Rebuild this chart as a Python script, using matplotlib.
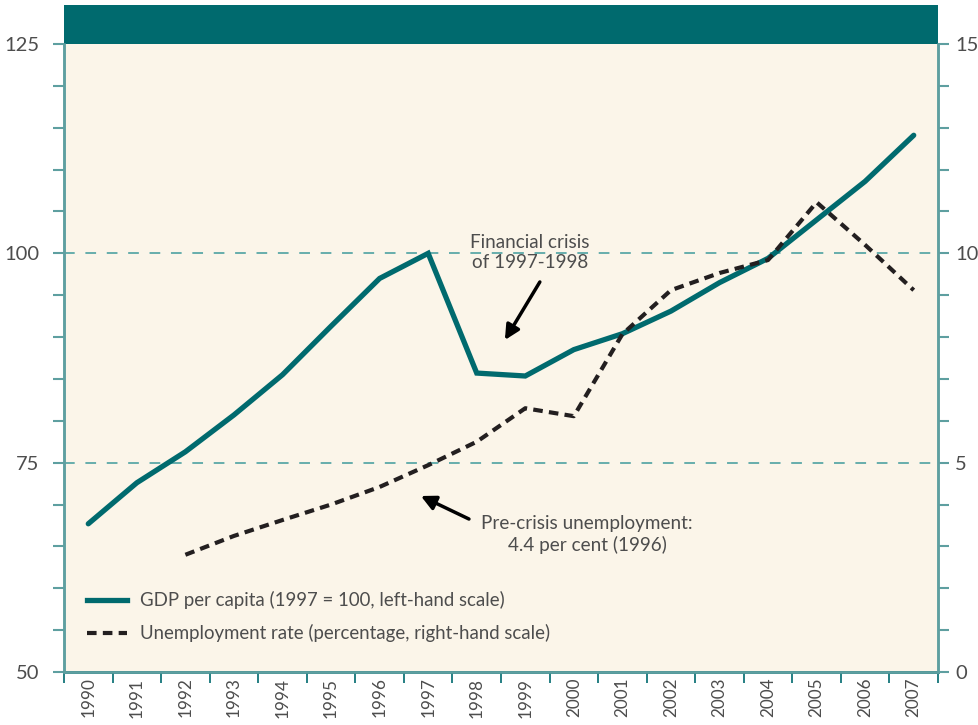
import matplotlib
matplotlib.use("Agg")
import matplotlib.pyplot as plt
import numpy as np

years = [str(y) for y in range(1990, 2008)]
gdp = [67.7, 72.6, 76.3, 80.7, 85.5, 91.3, 97.0, 100.0, 85.7, 85.35, 88.5, 90.4,
       93.1, 96.5, 99.4, 104.0, 108.6, 114.1]
unemp_years = [str(y) for y in range(1992, 2008)]
unemp = [2.8, 3.25, 3.63, 4.0, 4.42, 4.94, 5.5, 6.3, 6.11, 8.07, 9.12, 9.53, 9.84,
         11.22, 10.2, 9.12]
left_ticklabels = [50, 75, 100, 125]
right_ticklabels = [0, 5, 10, 15]
legend_labels = ["GDP per capita (1997 = 100, left-hand scale)",
                 "Unemployment rate (percentage, right-hand scale)"]

plt.rcParams['font.family'] = ['Lato', 'DejaVu Sans']

TEAL = "#006A6E"
SPINE = "#5E9FA0"
BG = "#FBF5E9"
TXT = "#4D4D4D"
FS = 13.4

fig = plt.figure(figsize=(9.79, 7.25), dpi=100)
ax = fig.add_axes([64/979, 53/725, (938-64)/979, (672-5)/725])
ax.set_facecolor(BG)
ax2 = ax.twinx()

frac = 667/628
ax.set_ylim(50, 50 + 75*frac)
ax2.set_ylim(0, 15*frac)
ax.set_xlim(-0.5, len(years) - 0.5)

# header band
ax.axhspan(125, 50 + 75*frac, color=TEAL, zorder=5, lw=0)

xi = np.arange(len(years))
ax.plot(xi, gdp, color=TEAL, lw=3.8, solid_capstyle='round', solid_joinstyle='miter', zorder=4)
ux = [years.index(y) for y in unemp_years]
ax2.plot(ux, unemp, color="#231F20", lw=3.0, dashes=(2.3, 1.5), zorder=4)

for v in [75, 100]:
    ax.axhline(v, color="#3E9A9B", lw=1.1, dashes=(7, 7), zorder=1)

# ticks
ax.set_xticks(np.arange(-0.5, len(years) + 0.5, 1))
ax.set_xticklabels([])
ax.set_xticks(xi, minor=True)
ax.set_xticklabels(years, minor=True, rotation=90, fontsize=12.3, color=TXT)
ax.tick_params(axis='x', which='major', direction='out', length=8, width=1.2, color=TEAL)
ax.tick_params(axis='x', which='minor', length=0, pad=4)

ax.set_yticks(np.arange(50, 126, 5))
ax.set_yticklabels([str(v) if v in left_ticklabels else "" for v in range(50, 126, 5)],
                   fontsize=14.5, color=TXT)
ax.tick_params(axis='y', direction='out', length=8, width=1.5, color=SPINE, pad=10)

ax2.set_yticks(np.arange(0, 16, 1))
ax2.set_yticklabels([str(v) if v in right_ticklabels else "" for v in range(0, 16)],
                    fontsize=14.5, color=TXT)
ax2.tick_params(axis='y', direction='out', length=8, width=1.5, color=SPINE, pad=4.5)

for a in (ax, ax2):
    a.spines['top'].set_visible(False)
    for s in ['left', 'right', 'bottom']:
        a.spines[s].set_color(SPINE)
        a.spines[s].set_linewidth(1.8)
ax.spines['left'].set_bounds(50, 125)
ax.spines['right'].set_bounds(50, 125)
ax2.spines['left'].set_bounds(0, 15)
ax2.spines['right'].set_bounds(0, 15)
ax.spines['bottom'].set_color(TEAL)

# annotations
ax.text(9.10, 100.1, "Financial crisis\nof 1997-1998", ha='center', va='center',
        fontsize=FS + 0.2, color=TXT, linespacing=1.2, zorder=6)
ax.annotate("", xy=(8.58, 89.65), xytext=(9.30, 96.58),
            arrowprops=dict(arrowstyle='-|>', lw=2.5, color='black', mutation_scale=22,
                            shrinkA=0, shrinkB=0), zorder=6)
ax.text(10.27, 66.42, "Pre-crisis unemployment:\n4.4 per cent (1996)", ha='center', va='center',
        fontsize=FS + 0.2, color=TXT, linespacing=1.3, zorder=6)
ax.annotate("", xy=(6.85, 71.02), xytext=(7.84, 68.27),
            arrowprops=dict(arrowstyle='-|>', lw=2.5, color='black', mutation_scale=22,
                            shrinkA=0, shrinkB=0), zorder=6)

# legend
h1 = plt.Line2D([], [], color=TEAL, lw=3.8)
h2 = plt.Line2D([], [], color="#231F20", lw=3.0, dashes=(2.3, 1.5))
leg = fig.legend([h1, h2], legend_labels, loc='upper left',
                 bbox_to_anchor=(87/979, 1 - 591/725), frameon=False, fontsize=FS,
                 handlelength=2.15, handletextpad=0.72, labelspacing=0.82,
                 borderpad=0, borderaxespad=0)
for t in leg.get_texts():
    t.set_color(TXT)

fig.savefig("out.png", dpi=100)
